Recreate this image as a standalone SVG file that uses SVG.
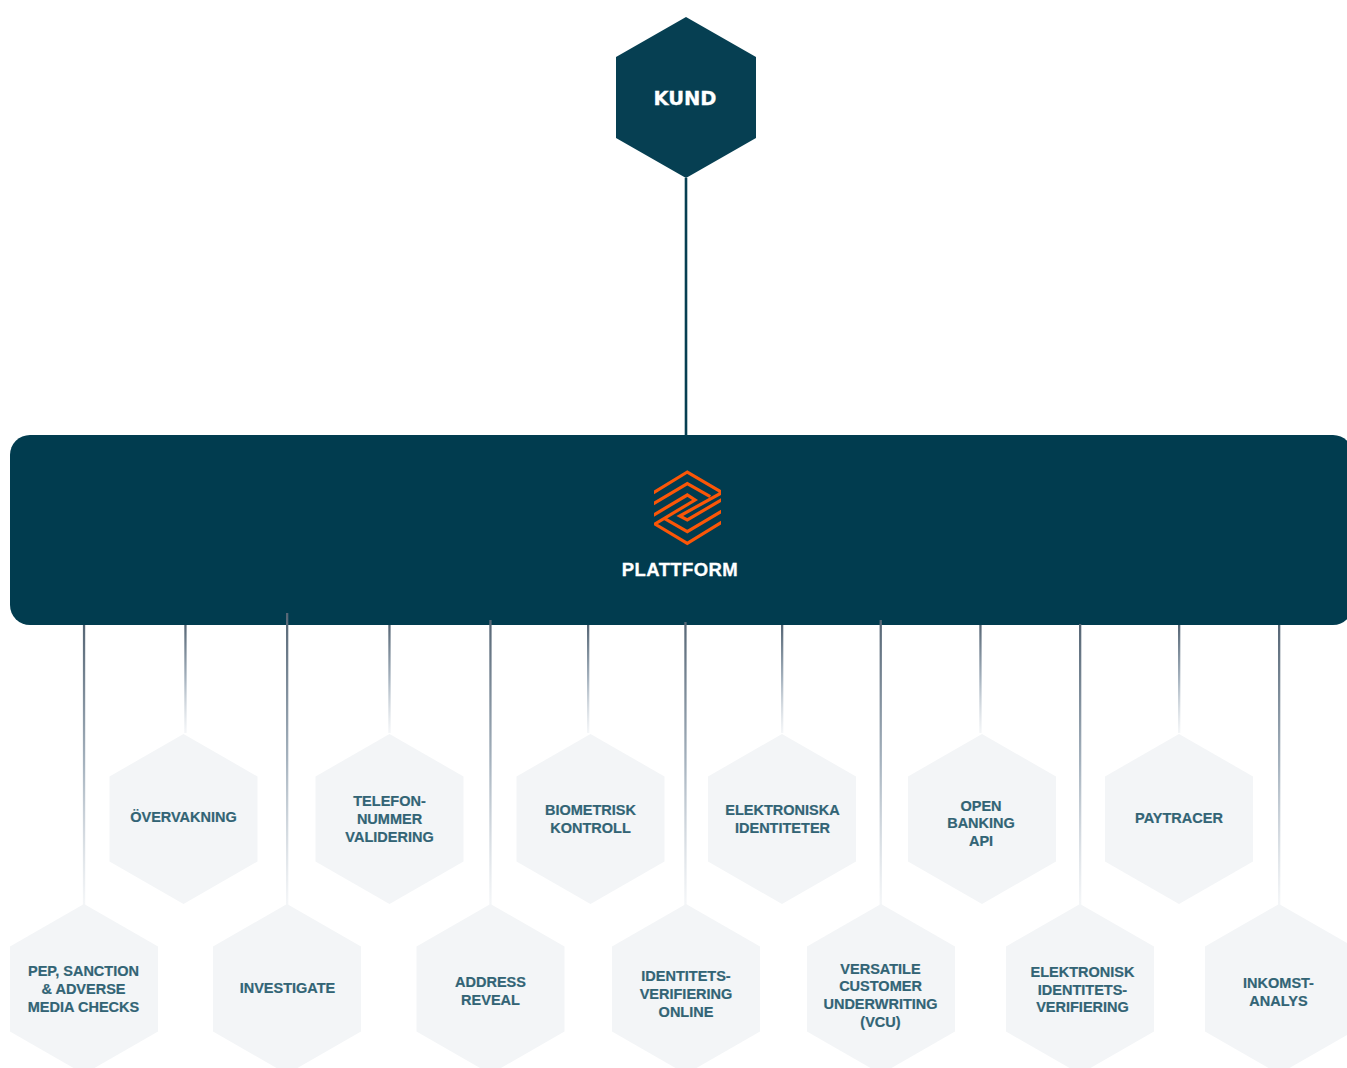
<svg xmlns="http://www.w3.org/2000/svg" width="1347" height="1068" viewBox="0 0 1347 1068">
<style>
.bar{fill:#013c4f}
.dark{fill:#063f52}
.hex{fill:#f3f5f7}
.t{font-family:"Liberation Sans",Arial,sans-serif;font-weight:700;font-size:14.5px;fill:#326475;stroke:#326475;stroke-width:.2;text-anchor:middle}
.w{font-family:"Liberation Sans",Arial,sans-serif;font-weight:700;fill:#fff;stroke:#fff;stroke-width:.3;text-anchor:middle}
.logo{fill:none;stroke:#fb5607;stroke-width:3.2;stroke-miterlimit:10}
</style>
<defs>
<linearGradient id="g" x1="0" y1="0" x2="0" y2="1"><stop offset="0" stop-color="#566675"/><stop offset=".5" stop-color="#a6b3bf"/><stop offset="1" stop-color="#eef1f4" stop-opacity=".6"/></linearGradient>
<polygon id="h" class="hex" points="0,-85 74,-42.500 74,42.500 0,85 -74,42.500 -74,-42.500"/>
<clipPath id="lc"><rect x="654" y="465" width="67" height="85"/></clipPath>
</defs>
<rect width="1347" height="1068" fill="#fff"/>
<g id="kund"><polygon class="dark" points="686,17 756,57 756,138 686,178 616,138 616,57"/><text class="w" x="685" y="105" style="font-family:'DejaVu Sans',sans-serif" font-size="19.500">KUND</text></g>
<g id="plattform">
<rect class="bar" x="10" y="435" width="1343" height="190" rx="20"/>
<g class="logo" clip-path="url(#lc)">
<path d="M652,493.500 687.300,472 722,492.500 679.700,516 687.300,520 722,499.500"/>
<path d="M652,516 687.300,495 695,500 655,524 687.300,543.300 722,522"/>
<path d="M652,504.500 687.300,483.500 710.300,496.700"/>
<path d="M722,511 687.300,531.700 664.300,518.300"/>
</g>
<text class="w" x="680" y="576" font-size="18.500" letter-spacing=".4">PLATTFORM</text>
</g>
<g id="connectors">
<rect class="dark" x="684.700" y="178" width="2.600" height="258"/>
<g fill="url(#g)">
<rect x="82.900" y="625" width="2.300" height="280"/>
<rect x="184.300" y="625" width="2.300" height="108"/>
<rect x="286" y="613" width="2.300" height="292"/>
<rect x="388.300" y="625" width="2.300" height="108"/>
<rect x="489.300" y="620" width="2.300" height="285"/>
<rect x="587" y="625" width="2.300" height="108"/>
<rect x="684.300" y="622" width="2.300" height="283"/>
<rect x="781" y="625" width="2.300" height="108"/>
<rect x="879.600" y="620" width="2.300" height="285"/>
<rect x="979.300" y="625" width="2.300" height="108"/>
<rect x="1079" y="624" width="2.300" height="281"/>
<rect x="1178" y="625" width="2.300" height="108"/>
<rect x="1278" y="625" width="2.300" height="280"/>
</g>
</g>
<g id="overvakning"><use href="#h" x="183.500" y="819"/><text class="t" x="183.500" y="822">ÖVERVAKNING</text></g>
<g id="telefon"><use href="#h" x="389.500" y="819"/><text class="t" x="389.500" y="806">TELEFON-</text><text class="t" x="389.500" y="824">NUMMER</text><text class="t" x="389.500" y="842">VALIDERING</text></g>
<g id="biometrisk"><use href="#h" x="590.500" y="819"/><text class="t" x="590.500" y="815">BIOMETRISK</text><text class="t" x="590.500" y="833">KONTROLL</text></g>
<g id="elektroniska"><use href="#h" x="782" y="819"/><text class="t" x="782.500" y="815">ELEKTRONISKA</text><text class="t" x="782.500" y="833">IDENTITETER</text></g>
<g id="openbanking"><use href="#h" x="982" y="819"/><text class="t" x="981" y="811">OPEN</text><text class="t" x="981" y="828">BANKING</text><text class="t" x="981" y="846">API</text></g>
<g id="paytracer"><use href="#h" x="1179" y="819"/><text class="t" x="1179" y="823">PAYTRACER</text></g>
<g id="pep"><use href="#h" x="84" y="989"/><text class="t" x="83.500" y="976">PEP, SANCTION</text><text class="t" x="83.500" y="994">&amp; ADVERSE</text><text class="t" x="83.500" y="1012">MEDIA CHECKS</text></g>
<g id="investigate"><use href="#h" x="287" y="989"/><text class="t" x="287.500" y="993">INVESTIGATE</text></g>
<g id="address"><use href="#h" x="490.500" y="989"/><text class="t" x="490.500" y="987">ADDRESS</text><text class="t" x="490.500" y="1005">REVEAL</text></g>
<g id="identitets"><use href="#h" x="686" y="989"/><text class="t" x="686" y="981">IDENTITETS-</text><text class="t" x="686" y="999">VERIFIERING</text><text class="t" x="686" y="1017">ONLINE</text></g>
<g id="vcu"><use href="#h" x="881" y="989"/><text class="t" x="880.500" y="974">VERSATILE</text><text class="t" x="880.500" y="991">CUSTOMER</text><text class="t" x="880.500" y="1009">UNDERWRITING</text><text class="t" x="880.500" y="1027">(VCU)</text></g>
<g id="elektronisk"><use href="#h" x="1080" y="989"/><text class="t" x="1082.500" y="977">ELEKTRONISK</text><text class="t" x="1082.500" y="995">IDENTITETS-</text><text class="t" x="1082.500" y="1012">VERIFIERING</text></g>
<g id="inkomst"><use href="#h" x="1279" y="989"/><text class="t" x="1278.500" y="988">INKOMST-</text><text class="t" x="1278.500" y="1006">ANALYS</text></g>
</svg>
